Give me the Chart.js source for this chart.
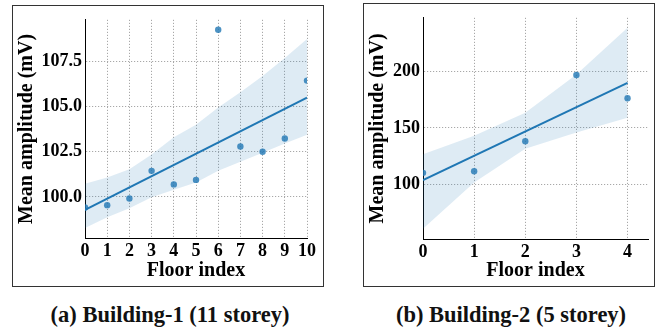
<!DOCTYPE html>
<html>
<head>
<meta charset="utf-8">
<script src="https://cdn.jsdelivr.net/npm/chart.js@4.4.1/dist/chart.umd.min.js"></script>
<style>
  body { margin: 0; background: #fff; width: 657px; height: 331px; position: relative; overflow: hidden; }
  .frame { position: absolute; border: 1px solid #333; box-sizing: border-box; }
  .frame canvas { position: absolute; left: 0; top: 0; }
  .caption { position: absolute; top: 303px; font: bold 22.5px 'Liberation Serif', serif; line-height: 24px;
             text-align: center; white-space: nowrap; color: #111; }
</style>
</head>
<body>
<div class="frame" style="left:12px;top:5px;width:312px;height:282px"><canvas id="chartA" width="310" height="280"></canvas></div>
<div class="frame" style="left:363px;top:3px;width:292px;height:284px"><canvas id="chartB" width="290" height="282"></canvas></div>
<div class="caption" style="left:14px;width:312px">(a) Building-1 (11 storey)</div>
<div class="caption" style="left:365px;width:292px">(b) Building-2 (5 storey)</div>
<script>
// Building-1 (11 storey)
const floorsA = [0, 1, 2, 3, 4, 5, 6, 7, 8, 9, 10];
const ampA = [99.41, 99.54, 99.91, 101.44, 100.69, 100.94, 109.26, 102.79, 102.5, 103.23, 106.44];
const fitXA = [0, 10];
const fitA = [99.28, 105.5];
const upperA = [100.73, 101.07, 101.53, 102.34, 103.3, 104.0, 104.95, 105.8, 106.7, 107.7, 108.74];
const lowerA = [98.27, 98.87, 99.37, 99.98, 100.39, 100.8, 101.45, 101.95, 102.45, 102.95, 103.44];

// Building-2 (5 storey)
const floorsB = [0, 1, 2, 3, 4];
const ampB = [110.1, 111.5, 138.2, 197.1, 176.4];
const fitXB = [0, 4];
const fitB = [103.6, 190.1];
const upperB = [126.6, 143.0, 163.4, 197.5, 239.0];
const lowerB = [60.5, 101.5, 131.6, 146.0, 159.0];

const BLUE = '#1f77b4';
const SERIF = "'Liberation Serif', 'Times New Roman', serif";

const pts = (xs, ys) => xs.map((x, i) => ({ x: x, y: ys[i] }));

function makeChart(id, o) {
  return new Chart(document.getElementById(id), {
    type: 'scatter',
    data: {
      datasets: [
        { type: 'line', data: pts(o.xs, o.upper), borderWidth: 0, pointRadius: 0,
          fill: '+1', backgroundColor: 'rgba(31,119,180,0.15)', order: 3 },
        { type: 'line', data: pts(o.xs, o.lower), borderWidth: 0, pointRadius: 0, fill: false, order: 4 },
        { type: 'line', data: pts(o.fitX, o.fit), borderColor: BLUE, borderWidth: 2, pointRadius: 0, order: 0 },
        { data: pts(o.xs, o.ys), backgroundColor: 'rgba(31,119,180,0.8)', borderWidth: 0,
          pointRadius: 3.2, order: 1 }
      ]
    },
    options: {
      responsive: false,
      animation: false,
      layout: { padding: { left: 0, top: 6, right: o.padRight, bottom: 0 } },
      plugins: { legend: { display: false }, tooltip: { enabled: false } },
      scales: {
        x: {
          type: 'linear', min: 0, max: o.xMax,
          afterFit: s => { s.height = o.xAxisH; },
          border: { display: true, color: '#000', width: 1, dash: [1.2, 1.8] },
          grid: { color: '#a8a8a8', lineWidth: 1, drawTicks: false },
          ticks: { stepSize: 1, includeBounds: false, padding: 3, color: '#000',
                   autoSkip: false, maxRotation: 0, minRotation: 0,
                   font: { family: SERIF, size: 18, weight: 'bold' } },
          title: { display: true, text: 'Floor index', color: '#000', padding: { top: 0, bottom: 3 },
                   font: { family: SERIF, size: 20, weight: 'bold' } }
        },
        y: {
          min: o.yMin, max: o.yMax,
          afterFit: s => { s.width = o.yAxisW; },
          border: { display: true, color: '#000', width: 1, dash: [1.2, 1.8] },
          grid: { color: '#a8a8a8', lineWidth: 1, drawTicks: false },
          ticks: { stepSize: o.yStep, includeBounds: false, padding: 3, color: '#000',
                   callback: v => v.toFixed(o.decimals),
                   font: { family: SERIF, size: 18, weight: 'bold' } },
          title: { display: true, text: 'Mean amplitude (mV)', color: '#000', padding: { top: 2, bottom: 0 },
                   font: { family: SERIF, size: 20, weight: 'bold' } }
        }
      }
    }
  });
}

makeChart('chartA', {
  xs: floorsA, ys: ampA, fitX: fitXA, fit: fitA, upper: upperA, lower: lowerA,
  xMax: 10, yMin: 97.72, yMax: 109.81, yStep: 2.5, decimals: 1,
  padRight: 16, xAxisH: 48, yAxisW: 72
});

makeChart('chartB', {
  xs: floorsB, ys: ampB, fitX: fitXB, fit: fitB, upper: upperB, lower: lowerB,
  xMax: 4.4, yMin: 51.3, yMax: 247.9, yStep: 50, decimals: 0,
  padRight: 6, xAxisH: 47, yAxisW: 59
});
</script>
</body>
</html>
